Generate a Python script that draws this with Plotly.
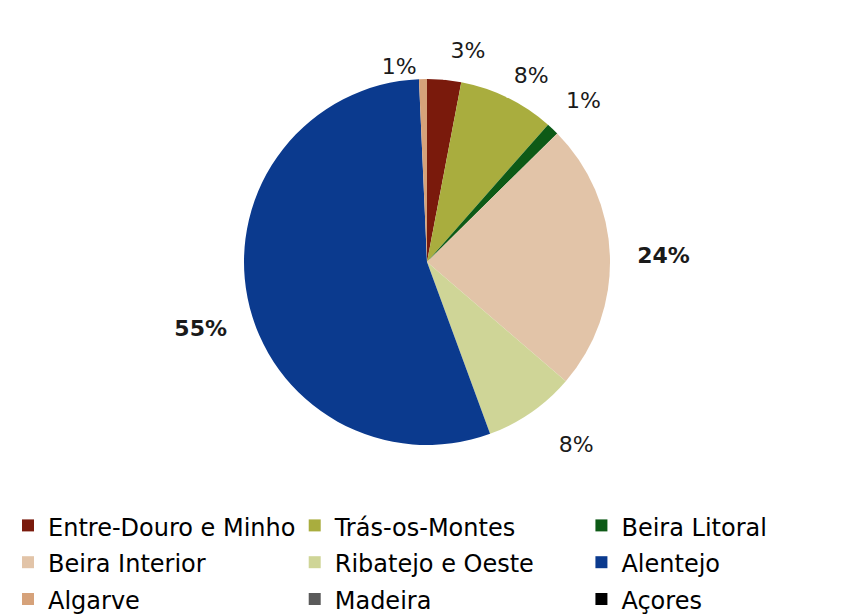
import plotly.graph_objects as go

regions = ["Entre-Douro e Minho", "Trás-os-Montes", "Beira Litoral",
           "Beira Interior", "Ribatejo e Oeste", "Alentejo",
           "Algarve", "Madeira", "Açores"]
shares = [3.0, 8.5, 1.1, 23.7, 8.1, 54.9, 0.7, 0.0, 0.0]
share_labels = ["3%", "8%", "1%", "24%", "8%", "55%", "1%", "", ""]
bold_label = [False, False, False, True, False, True, False, False, False]
# spacing of labels away from the pie edge (non-breaking spaces / blank lines)
label_pad_left = [0, 0, 0, 3, 2, 0, 0, 0, 0]
label_pad_right = [0, 0, 0, 0, 0, 0, 0, 0, 0]
label_lines_above = [0, 0, 0, 0, 1, 2, 0, 0, 0]
label_lines_below = [0, 0, 1, 0, 0, 0, 0, 0, 0]
colors = ["#7a1a0c", "#a9ad3e", "#0d5a16", "#e2c4a8", "#cfd597",
          "#0b3a8e", "#d6a27a", "#5a5a5a", "#000000"]

NB = "\u00a0"
texts = []
for t, b, pl, pr, la, lb in zip(share_labels, bold_label, label_pad_left,
                                label_pad_right, label_lines_above, label_lines_below):
    if not t:
        texts.append("")
        continue
    core = f"<b>{t}</b>" if b else t
    line = NB * pl + f'<span style="color:#1a1a1a">{core}</span>' + NB * pr
    texts.append((NB + "<br>") * la + line + ("<br>" + NB) * lb)

legend_names = [f'<span style="font-size:24px">{r}</span>' for r in regions]

fig = go.Figure(go.Pie(
    labels=legend_names,
    values=shares,
    text=texts,
    textinfo="text",
    textposition="outside",
    # visible text is coloured through the span; white keeps leader lines invisible
    textfont=dict(family="DejaVu Sans", size=22, color="#ffffff"),
    marker=dict(colors=colors, line=dict(width=0)),
    sort=False,
    direction="clockwise",
    rotation=0,
    domain=dict(x=[0.2741, 0.6992], y=[0.2894, 0.8846]),
))

fig.update_layout(
    width=861, height=615,
    margin=dict(l=0, r=0, t=0, b=0),
    paper_bgcolor="white",
    plot_bgcolor="white",
    showlegend=True,
    legend=dict(
        orientation="h",
        x=0.02, xanchor="left",
        y=0.0, yanchor="bottom",
        entrywidth=0.333, entrywidthmode="fraction",
        font=dict(family="DejaVu Sans", size=26, color="#000000"),
        traceorder="normal",
    ),
)

fig.write_html("out.html")
